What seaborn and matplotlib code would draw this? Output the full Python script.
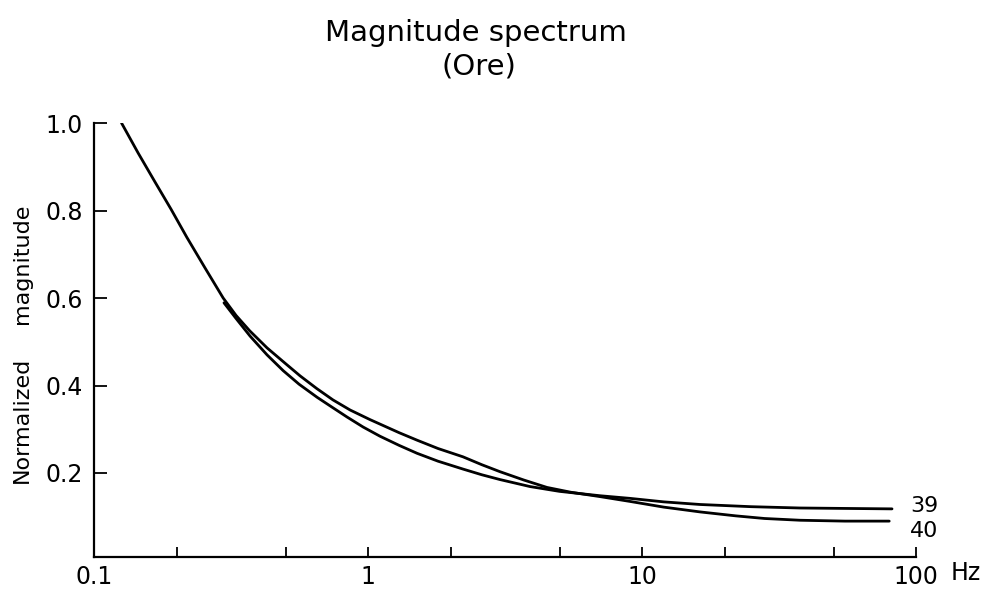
import matplotlib
matplotlib.use("Agg")
import matplotlib.pyplot as plt
import matplotlib.ticker as mticker
import pandas as pd
import seaborn as sns

# curve 40 (starts at top left, ends lower)
freq_40 = [0.126, 0.145, 0.167, 0.191, 0.218, 0.254, 0.296, 0.33, 0.37,
           0.428, 0.50, 0.565, 0.65, 0.745, 0.86, 1.017, 1.3, 1.51, 1.8,
           2.22, 2.6, 3.03, 3.7, 4.5, 5.5, 7.03, 9.04, 12, 16.3, 22, 28,
           37.7, 55, 79.8]
mag_40 = [1.0, 0.931, 0.865, 0.803, 0.739, 0.669, 0.600, 0.560, 0.525,
          0.486, 0.450, 0.422, 0.393, 0.367, 0.344, 0.322, 0.292, 0.275,
          0.256, 0.237, 0.219, 0.203, 0.184, 0.167, 0.156, 0.146, 0.135,
          0.122, 0.111, 0.102, 0.096, 0.092, 0.090, 0.090]

# curve 39 (starts at 0.3 Hz, ends upper)
freq_39 = [0.298, 0.33, 0.371, 0.428, 0.49, 0.56, 0.652, 0.745, 0.838,
           0.96, 1.106, 1.3, 1.51, 1.8, 2.22, 2.6, 3.03, 3.9, 5.0, 7.03,
           9.04, 12, 16.3, 25, 37.7, 55, 81.7]
mag_39 = [0.589, 0.553, 0.513, 0.470, 0.434, 0.403, 0.373, 0.349, 0.328,
          0.305, 0.284, 0.263, 0.245, 0.227, 0.209, 0.196, 0.185, 0.169,
          0.158, 0.148, 0.142, 0.134, 0.128, 0.123, 0.120, 0.119, 0.118]

x_ticks = [0.1, 1, 10, 100]
x_tick_labels = ["0.1", "1", "10", "100"]
x_minor = [0.2, 0.5, 2, 5, 20, 50]
y_ticks = [0.2, 0.4, 0.6, 0.8, 1.0]
y_tick_labels = ["0.2", "0.4", "0.6", "0.8", "1.0"]

sns.set_style("white")
plt.rcParams["font.family"] = ["DejaVu Sans"]
plt.rcParams["text.color"] = "black"

df = pd.concat([
    pd.DataFrame({"freq": freq_40, "mag": mag_40, "curve": "40"}),
    pd.DataFrame({"freq": freq_39, "mag": mag_39, "curve": "39"}),
])

fig = plt.figure(figsize=(9.94, 5.94), dpi=100)
ax = fig.add_axes([0.0946, 0.0623, 0.827, 0.7306])

sns.lineplot(data=df, x="freq", y="mag", units="curve", estimator=None,
             color="black", linewidth=2.0, sort=False, ax=ax, legend=False)

ax.set_xscale("log")
ax.set_xlim(0.1, 100)
ax.set_ylim(0.008, 1.0)

ax.xaxis.set_major_locator(mticker.FixedLocator(x_ticks))
ax.xaxis.set_major_formatter(mticker.FixedFormatter(x_tick_labels))
ax.xaxis.set_minor_locator(mticker.FixedLocator(x_minor))
ax.xaxis.set_minor_formatter(mticker.NullFormatter())
ax.set_yticks(y_ticks)
ax.set_yticklabels(y_tick_labels)

ax.tick_params(axis="both", which="both", direction="in", color="black",
               width=1.3, labelsize=17, labelcolor="black",
               bottom=True, left=True, top=False, right=False)
ax.tick_params(axis="x", which="both", length=7, pad=6)
ax.tick_params(axis="y", length=9, pad=8)

for side in ["top", "right"]:
    ax.spines[side].set_visible(False)
for side in ["left", "bottom"]:
    ax.spines[side].set_color("black")
    ax.spines[side].set_linewidth(1.6)

ax.set_xlabel("")
ax.set_ylabel("")

# curve labels at the right end
ax.text(95, 0.125, "39", fontsize=16, va="center", ha="left")
ax.text(95, 0.067, "40", fontsize=16, va="center", ha="left")

# axis labels
ax.text(1.06, -0.038, "Hz", transform=ax.transAxes, fontsize=17,
        va="center", ha="center")
ax.text(-0.088, 0.315, "Normalized", transform=ax.transAxes, fontsize=16,
        rotation=90, va="center", ha="center")
ax.text(-0.088, 0.675, "magnitude", transform=ax.transAxes, fontsize=16,
        rotation=90, va="center", ha="center")

fig.text(0.479, 0.945, "Magnitude spectrum", fontsize=21, ha="center",
         va="center")
fig.text(0.482, 0.888, "(Ore)", fontsize=21, ha="center", va="center")

fig.savefig("out.png", dpi=100)
